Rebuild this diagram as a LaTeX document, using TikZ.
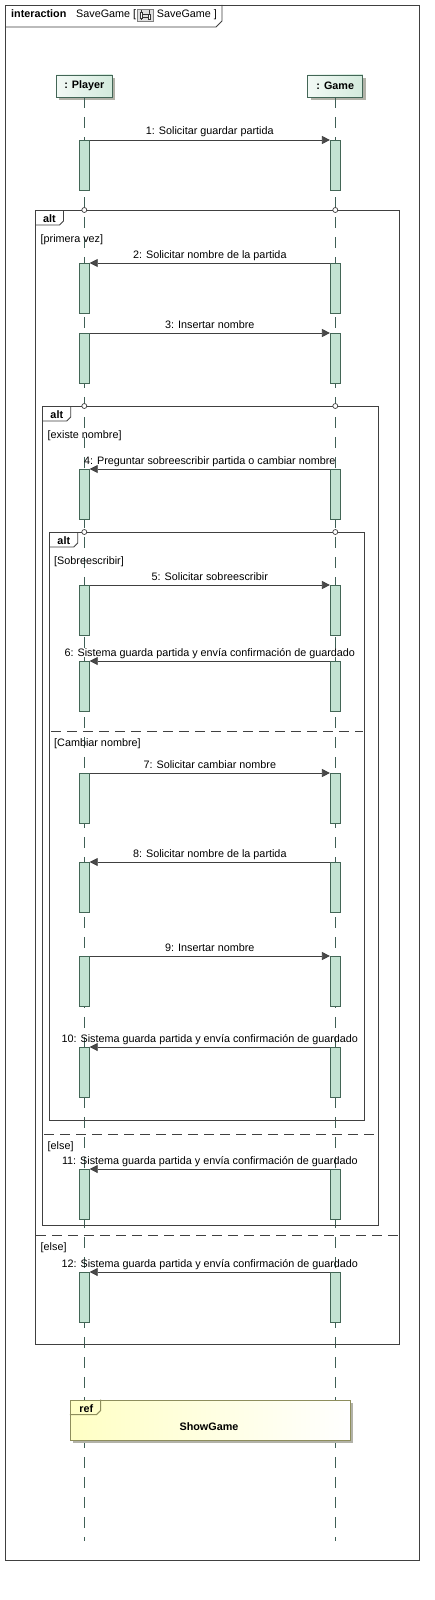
\documentclass[tikz,border=0pt]{standalone}
\usepackage{fontspec}
\setmainfont{Liberation Sans}
\usetikzlibrary{arrows.meta,shadows,calc}

\definecolor{frameC}{HTML}{404040}
\definecolor{lifeC}{HTML}{3F5F55}
\definecolor{actFill}{HTML}{C3E3D2}
\definecolor{actDraw}{HTML}{436656}
\definecolor{headDraw}{HTML}{436656}
\definecolor{headL}{HTML}{F2F9F5}
\definecolor{headR}{HTML}{D3EADC}
\definecolor{refDraw}{HTML}{8E8E5C}
\definecolor{refFill}{HTML}{FFFFC4}
\definecolor{shadowC}{HTML}{B2B2A8}
\definecolor{arrowC}{HTML}{4A4A4A}

\begin{document}
\begin{tikzpicture}[x=1pt,y=-1pt,
  every node/.style={font=\fontsize{10.8}{13}\selectfont, text=black},
  bold/.style={font=\fontsize{10.8}{13}\selectfont\bfseries},
  head/.style={draw=headDraw, line width=0.8pt, minimum height=22pt, inner sep=0pt,
    font=\fontsize{10.8}{13}\selectfont\bfseries, left color=headL, right color=headR,
    drop shadow={shadow xshift=3pt, shadow yshift=-3pt, fill=shadowC, opacity=1}},
  lifeline/.style={draw=lifeC, line width=0.8pt, dash pattern=on 11pt off 9pt},
  act/.style={draw=actDraw, fill=actFill, line width=0.8pt, anchor=north,
    minimum width=10pt, minimum height=50pt, inner sep=0pt},
  msg/.style={draw=frameC, line width=0.8pt, -{Triangle[length=8pt,width=8pt,fill=arrowC]}},
  lbl/.style={anchor=base, yshift=5pt, inner sep=0pt},
  frag/.style={draw=frameC, line width=0.9pt},
  sep/.style={draw=frameC, line width=0.9pt, dash pattern=on 10pt off 6pt},
  guard/.style={anchor=base west, inner sep=0pt},
  tabtxt/.style={bold, anchor=base, inner sep=0pt},
  gate/.style={circle, draw=frameC, fill=white, line width=0.7pt, minimum size=5pt, inner sep=0pt},
  refbox/.style={draw=refDraw, line width=0.9pt, left color=refFill, right color=white,
    minimum width=280pt, minimum height=40pt, inner sep=0pt,
    drop shadow={shadow xshift=3pt, shadow yshift=-3pt, fill=shadowC, opacity=1}}
]
\useasboundingbox (0,0) rectangle (434,1600);
\fill[white] (0,0) rectangle (434,1600);

% outer interaction frame
\draw[frag] (5,5) rectangle (419,1560);
\draw[frag] (5,27) -- (216,27) -- (222,21) -- (222,5);
\node[bold, guard] (ttl) at (11,18) {interaction};
\node[guard] (ttl2) at (76,18) {SaveGame [};
\draw[draw=gray, fill=gray!25, line width=0.5pt] (137.7,9) rectangle (153.3,21);
\draw[gray!40!black, line width=0.5pt] (141,10) -- (141,20) (149,10) -- (149,20);
\draw[gray!40!black, fill=white, line width=0.5pt] (140,12.5) rectangle (142,18) (148,14) rectangle (150,19.5);
\draw[gray!40!black, line width=0.5pt] (142,14) -- (148,14) (142,17) -- (148,17);
\node[guard] (ttl3) at (156.7,18) {SaveGame ]};

% lifeline heads
\node[head, minimum width=56pt] (pl) at (84.3,86) {: Player};
\node[head, minimum width=55pt] (gm) at (335.3,86) {: Game};
\coordinate (plend) at (84.3,1541);
\coordinate (gmend) at (335.3,1541);
\draw[lifeline] (pl.south) -- (plend);
\draw[lifeline] (gm.south) -- (gmend);

% combined fragments
% alt 1
\draw[frag] (35,210) rectangle (399,1344);
\draw[frag] (35,225) -- (59.5,225) -- (63.5,221) -- (63.5,210);
\node[tabtxt] (alt1) at (49.5,222.5) {alt};
\node[guard] (g1a) at (40.5,242.5) {[primera vez]};
\draw[sep] (36,1235) -- (398,1235);
\node[guard] (g1b) at (40.5,1250.5) {[else]};
% alt 2
\draw[frag] (42.3,406) rectangle (378.3,1225);
\draw[frag] (42.3,421) -- (66.7,421) -- (70.7,417) -- (70.7,406);
\node[tabtxt] (alt2) at (56.8,418.5) {alt};
\node[guard] (g2a) at (47.5,438.5) {[existe nombre]};
\draw[sep] (44,1134) -- (377,1134);
\node[guard] (g2b) at (47.5,1149.5) {[else]};
% alt 3
\draw[frag] (49.3,532) rectangle (364.3,1120);
\draw[frag] (49.3,547) -- (73.7,547) -- (77.7,543) -- (77.7,532);
\node[tabtxt] (alt3) at (63.8,544.5) {alt};
\node[guard] (g3a) at (54,564.5) {[Sobreescribir]};
\draw[sep] (51,731) -- (363,731);
\node[guard] (g3b) at (54,746.5) {[Cambiar nombre]};

% gates on lifelines
\foreach \y/\n in {210/a,406/b,532/c} {
  \node[gate] (pc\n) at (84.3,\y) {};
  \node[gate] (gc\n) at (335.3,\y) {};
}

% activations
\foreach \i/\y in {1/140,2/263,3/333,4/469,5/585,6/661,7/773,8/862,9/956,10/1047,11/1169,12/1272} {
  \node[act] (p\i) at (84.3,\y) {};
  \node[act] (g\i) at (335.3,\y) {};
}

% messages
\draw[msg] (p1.north east) -- node[lbl] {1: Solicitar guardar partida} (g1.north west);
\draw[msg] (g2.north west) -- node[lbl] {2: Solicitar nombre de la partida} (p2.north east);
\draw[msg] (p3.north east) -- node[lbl] {3: Insertar nombre} (g3.north west);
\draw[msg] (g4.north west) -- node[lbl] {4: Preguntar sobreescribir partida o cambiar nombre} (p4.north east);
\draw[msg] (p5.north east) -- node[lbl] {5: Solicitar sobreescribir} (g5.north west);
\draw[msg] (g6.north west) -- node[lbl] {6: Sistema guarda partida y envía confirmación de guardado} (p6.north east);
\draw[msg] (p7.north east) -- node[lbl] {7: Solicitar cambiar nombre} (g7.north west);
\draw[msg] (g8.north west) -- node[lbl] {8: Solicitar nombre de la partida} (p8.north east);
\draw[msg] (p9.north east) -- node[lbl] {9: Insertar nombre} (g9.north west);
\draw[msg] (g10.north west) -- node[lbl] {10: Sistema guarda partida y envía confirmación de guardado} (p10.north east);
\draw[msg] (g11.north west) -- node[lbl] {11: Sistema guarda partida y envía confirmación de guardado} (p11.north east);
\draw[msg] (g12.north west) -- node[lbl] {12: Sistema guarda partida y envía confirmación de guardado} (p12.north east);

% interaction use
\node[refbox] (ref) at (210.3,1420) {};
\draw[draw=refDraw, line width=0.9pt] (ref.north west) ++(0,15) -- ++(26.7,0) -- ++(4,-4) -- ++(0,-11);
\node[tabtxt] (reftxt) at (86.3,1412.7) {ref};
\node[bold, inner sep=0pt, anchor=base] (refname) at (209,1430) {ShowGame};
\end{tikzpicture}
\end{document}
